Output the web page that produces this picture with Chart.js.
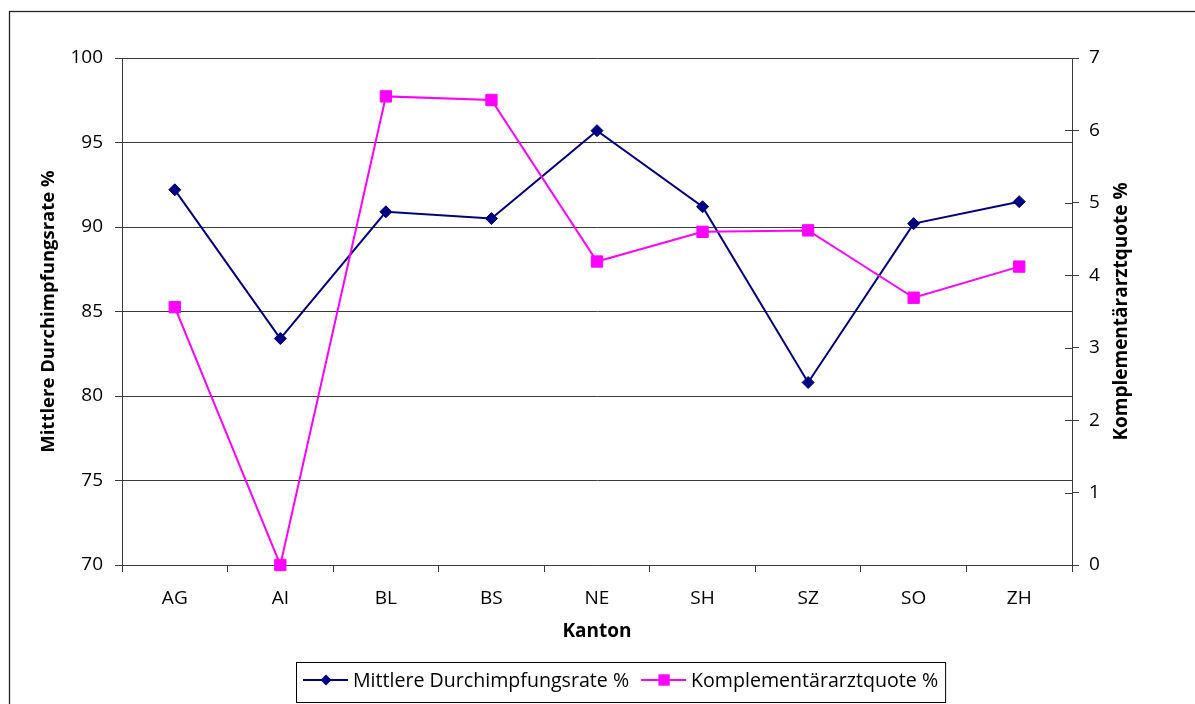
<!DOCTYPE html>
<html>
<head>
<meta charset="utf-8">
<script src="https://cdn.jsdelivr.net/npm/chart.js@4.4.1/dist/chart.umd.min.js"></script>
<style>
  html, body { margin: 0; padding: 0; background: #fff; overflow: hidden; }
  #wrap { width: 1195px; height: 704px; position: relative; }
</style>
</head>
<body>
<div id="wrap"><canvas id="c" width="1195" height="704"></canvas></div>
<script>
// Kantone and their values
const kantone = ['AG', 'AI', 'BL', 'BS', 'NE', 'SH', 'SZ', 'SO', 'ZH'];
const durchimpfungsrate = [92.2, 83.4, 90.9, 90.5, 95.7, 91.2, 80.8, 90.2, 91.5];
const komplementaerQuote = [3.56, 0, 6.47, 6.42, 4.19, 4.60, 4.62, 3.69, 4.12];

// Axis ranges
const rateAxis = { min: 70, max: 100, step: 5 };
const quoteAxis = { min: 0, max: 7, step: 1 };

const FONT = "'Open Sans', 'Noto Sans', sans-serif";
const NAVY = '#000080';
const MAGENTA = '#FF00FF';
const GRID = '#3a3a3a';

Chart.defaults.font.family = FONT;
Chart.defaults.font.size = 19;
Chart.defaults.color = '#000';

// Outer frame around the whole chart
const framePlugin = {
  id: 'frame',
  beforeDraw(chart) {
    const ctx = chart.ctx;
    ctx.save();
    ctx.fillStyle = '#fff';
    ctx.fillRect(0, 0, chart.width, chart.height);
    ctx.strokeStyle = '#222';
    ctx.lineWidth = 1.3;
    ctx.strokeRect(9.5, 11.5, 1400, 1000);
    ctx.restore();
  }
};

// Right axis: tick marks also reach into the plot, title reads bottom-to-top
const rightAxisPlugin = {
  id: 'rightAxis',
  afterDraw(chart) {
    const s = chart.scales.y1;
    const ctx = chart.ctx;
    ctx.save();
    ctx.strokeStyle = GRID;
    ctx.lineWidth = 1;
    s.ticks.forEach(t => {
      const y = Math.round(s.getPixelForValue(t.value)) + 0.5;
      ctx.beginPath();
      ctx.moveTo(s.left - 7, y);
      ctx.lineTo(s.left, y);
      ctx.stroke();
    });
    const ca = chart.chartArea;
    ctx.translate(1122, (ca.top + ca.bottom) / 2);
    ctx.rotate(-Math.PI / 2);
    ctx.font = 'bold 19px ' + FONT;
    ctx.fillStyle = '#000';
    ctx.textAlign = 'center';
    ctx.textBaseline = 'middle';
    ctx.fillText('Komplementärarztquote %', 0, 0);
    ctx.restore();
  }
};

// Boxed legend with line-and-marker samples
const boxLegendPlugin = {
  id: 'boxLegend',
  afterDraw(chart) {
    const ctx = chart.ctx;
    const left = 296, top = 662, bottom = 702, cy = 680;
    ctx.save();
    ctx.font = '19.6px ' + FONT;
    ctx.textBaseline = 'middle';
    let x = left + 7;
    chart.data.datasets.forEach((ds) => {
      ctx.strokeStyle = ds.borderColor;
      ctx.lineWidth = 2;
      ctx.beginPath();
      ctx.moveTo(x, cy);
      ctx.lineTo(x + 45, cy);
      ctx.stroke();
      ctx.fillStyle = ds.pointBackgroundColor;
      ctx.beginPath();
      if (ds.pointStyle === 'rect') {
        const h = ds.legendRadius * Math.SQRT1_2;
        ctx.rect(x + 23 - h, cy - h, 2 * h, 2 * h);
      } else {
        const r = ds.legendRadius;
        ctx.moveTo(x + 23, cy - r);
        ctx.lineTo(x + 23 + r, cy);
        ctx.lineTo(x + 23, cy + r);
        ctx.lineTo(x + 23 - r, cy);
        ctx.closePath();
      }
      ctx.fill();
      x += 50;
      ctx.fillStyle = '#000';
      ctx.textAlign = 'left';
      ctx.fillText(ds.label, x, cy + 1);
      x += ctx.measureText(ds.label).width + 12;
    });
    const right = x - 12 + 7;
    ctx.strokeStyle = '#000';
    ctx.lineWidth = 1;
    ctx.strokeRect(left + 0.5, top + 0.5, right - left, bottom - top);
    ctx.restore();
  }
};

new Chart(document.getElementById('c'), {
  type: 'line',
  data: {
    labels: kantone,
    datasets: [
      {
        label: 'Mittlere Durchimpfungsrate %',
        data: durchimpfungsrate,
        yAxisID: 'y',
        borderColor: NAVY,
        backgroundColor: NAVY,
        pointBackgroundColor: NAVY,
        pointBorderColor: NAVY,
        borderWidth: 2,
        pointStyle: 'rectRot',
        pointRadius: 6,
        pointBorderWidth: 1,
        legendRadius: 5.5,
        tension: 0,
        clip: false,
        order: 1
      },
      {
        label: 'Komplementärarztquote %',
        data: komplementaerQuote,
        yAxisID: 'y1',
        borderColor: MAGENTA,
        backgroundColor: MAGENTA,
        pointBackgroundColor: MAGENTA,
        pointBorderColor: MAGENTA,
        borderWidth: 2,
        pointStyle: 'rect',
        pointRadius: 8,
        pointBorderWidth: 1,
        legendRadius: 8,
        tension: 0,
        clip: false,
        order: 0
      }
    ]
  },
  options: {
    responsive: false,
    animation: false,
    devicePixelRatio: 1,
    layout: { padding: { left: 34, top: 58, right: 0, bottom: 57 } },
    plugins: {
      legend: { display: false },
      tooltip: { enabled: false }
    },
    elements: { line: { borderJoinStyle: 'miter' } },
    scales: {
      x: {
        type: 'category',
        offset: true,
        grid: {
          offset: true,
          drawOnChartArea: false,
          drawTicks: true,
          tickLength: 7,
          color: GRID
        },
        border: { display: true, color: GRID, width: 1 },
        ticks: { padding: 15, font: { size: 19 }, color: '#000', maxRotation: 0 },
        title: { display: true, text: 'Kanton', font: { size: 19, weight: 'bold' }, color: '#000' },
        afterFit(s) { s.height = 82; }
      },
      y: {
        position: 'left',
        min: rateAxis.min,
        max: rateAxis.max,
        ticks: { stepSize: rateAxis.step, padding: 12, font: { size: 19 }, color: '#000' },
        grid: { color: GRID, tickLength: 7, drawTicks: true },
        border: { display: true, color: GRID, width: 1 },
        title: { display: true, text: 'Mittlere Durchimpfungsrate %', font: { size: 18.5, weight: 'bold' }, color: '#000' },
        afterFit(s) { s.width = 88; }
      },
      y1: {
        position: 'right',
        min: quoteAxis.min,
        max: quoteAxis.max,
        ticks: { stepSize: quoteAxis.step, padding: 10, font: { size: 19 }, color: '#000' },
        grid: { drawOnChartArea: false, color: GRID, tickLength: 7, drawTicks: true },
        border: { display: true, color: GRID, width: 1 },
        afterFit(s) { s.width = 123; }
      }
    }
  },
  plugins: [framePlugin, rightAxisPlugin, boxLegendPlugin]
});
</script>
</body>
</html>
